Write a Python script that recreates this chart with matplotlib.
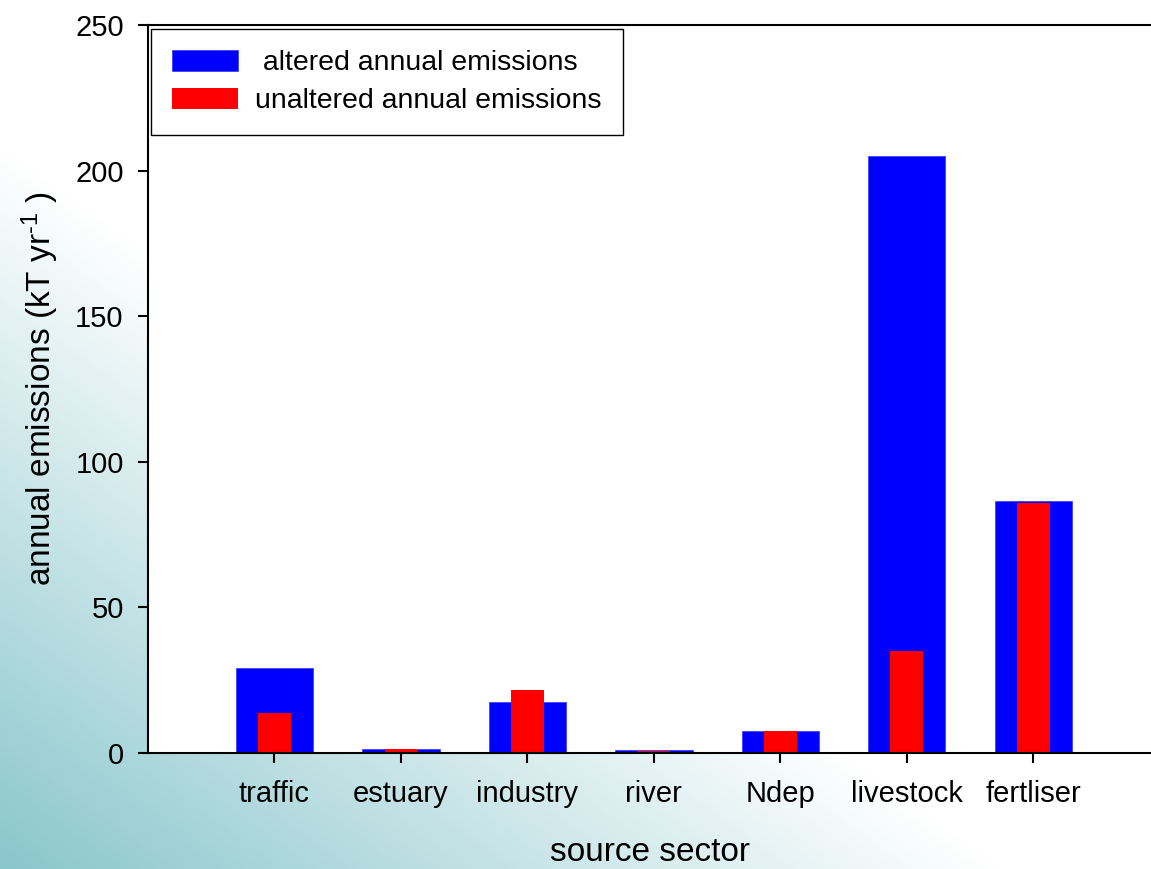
import numpy as np
import matplotlib.pyplot as plt
from matplotlib.colors import to_rgb

plt.rcParams['font.family'] = ['Liberation Sans', 'DejaVu Sans']
plt.rcParams['mathtext.fontset'] = 'custom'
plt.rcParams['mathtext.rm'] = 'Liberation Sans'
plt.rcParams['mathtext.default'] = 'regular'

sectors = ['traffic', 'estuary', 'industry', 'river', 'Ndep', 'livestock', 'fertliser']
altered = [29.2, 1.4, 17.4, 0.9, 7.4, 205.0, 86.5]
unaltered = [13.6, 1.5, 21.5, 0.8, 7.5, 35.0, 85.9]

fig = plt.figure(figsize=(11.51, 8.69), dpi=100)

# teal gradient from the bottom-left corner of the figure
bg = fig.add_axes([0, 0, 1, 1], zorder=-10)
h, w = 869, 1151
yy, xx = np.mgrid[0:h, 0:w]
t = np.clip(xx / 1000.0 + (h - 1 - yy) / 720.0, 0, 1)[..., None]
teal = np.array(to_rgb('#89c6cc'))
img = teal * (1 - t) + np.ones(3) * t
bg.imshow(img, aspect='auto', extent=[0, 1, 0, 1], origin='upper')
bg.axis('off')

ax = fig.add_axes([148 / 1151, 116 / 869, 1 - 148 / 1151, 728 / 869])
ax.set_facecolor('white')
x = np.arange(1, len(sectors) + 1)
ax.bar(x, altered, width=0.61, color='#0000ff', edgecolor='#3333ff', linewidth=0.5,
       label=' altered annual emissions')
ax.bar(x, unaltered, width=0.26, color='#ff0000', linewidth=0,
       label='unaltered annual emissions')

ax.set_xlim(0, 7.93)
ax.set_ylim(0, 250)
ax.set_xticks(x)
ax.set_xticklabels(sectors)
ax.set_yticks([0, 50, 100, 150, 200, 250])
for s in ['left', 'bottom', 'top']:
    ax.spines[s].set_linewidth(1.5)
ax.spines['right'].set_visible(False)
ax.tick_params(axis='both', direction='out', length=7.5, width=1.5, labelsize=21)
ax.tick_params(axis='y', pad=10)
ax.tick_params(axis='x', pad=12)

ax.set_ylabel('annual emissions (kT yr$^{\u20101}$ )', fontsize=24, labelpad=10)
ax.set_xlabel('source sector', fontsize=24, labelpad=21)

leg = ax.legend(loc='upper left', bbox_to_anchor=(0.003, 0.995), fontsize=20.5,
                frameon=True, fancybox=False, framealpha=1, edgecolor='black',
                handlelength=2.3, handleheight=0.75, handletextpad=0.6,
                labelspacing=0.4, borderpad=0.75, borderaxespad=0)
leg.get_frame().set_linewidth(1.0)

fig.savefig('out.png', dpi=100)
